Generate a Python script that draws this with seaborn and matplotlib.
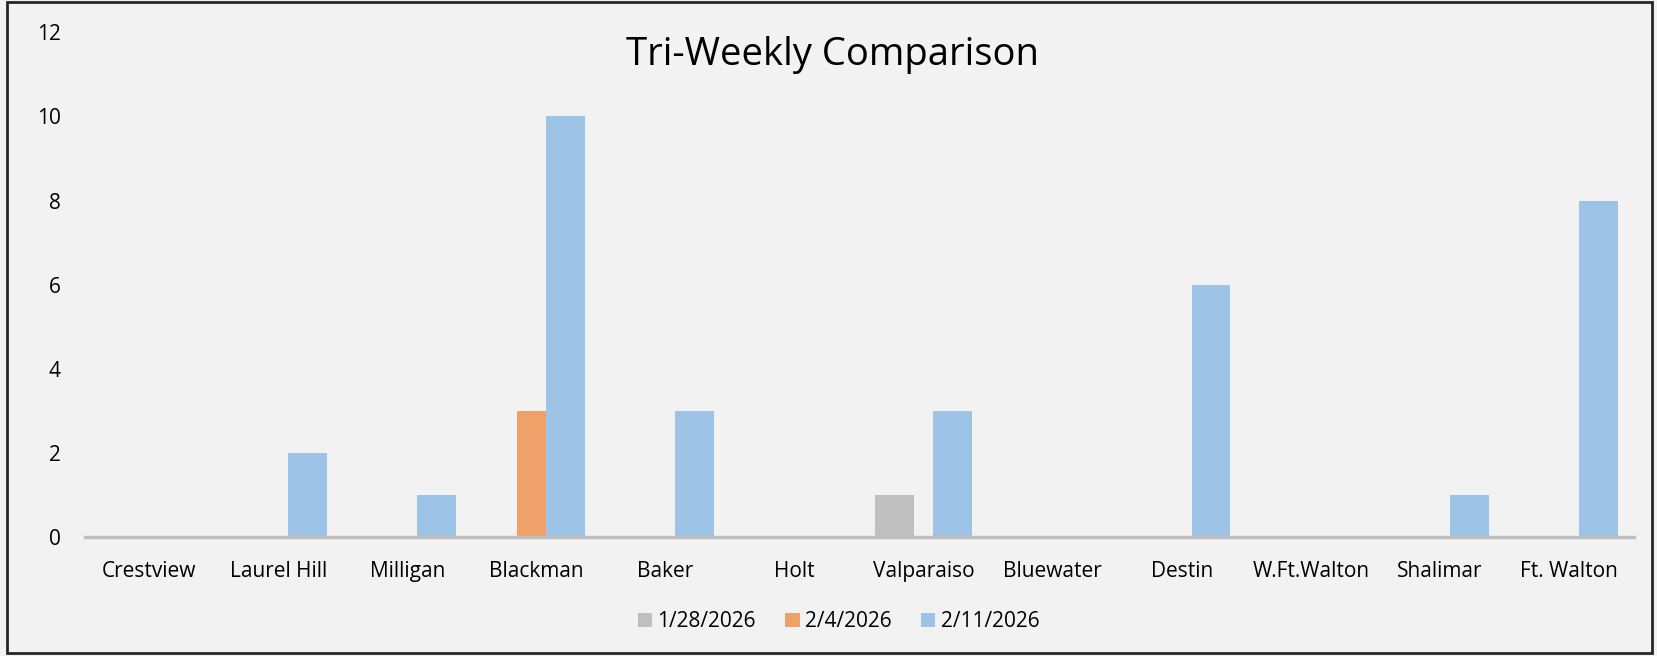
import pandas as pd
import matplotlib.pyplot as plt
import matplotlib.patches as mpatches
import seaborn as sns

# data
locations = ['Crestview', 'Laurel Hill', 'Milligan', 'Blackman', 'Baker', 'Holt',
             'Valparaiso', 'Bluewater', 'Destin', 'W.Ft.Walton', 'Shalimar', 'Ft. Walton']
dates = ['1/28/2026', '2/4/2026', '2/11/2026']
week_1 = [0, 0, 0, 0, 0, 0, 1, 0, 0, 0, 0, 0]
week_2 = [0, 0, 0, 3, 0, 0, 0, 0, 0, 0, 0, 0]
week_3 = [0, 2, 1, 10, 3, 0, 3, 0, 6, 0, 1, 8]
colors = ['#bfbfbf', '#f0a16a', '#9dc3e6']

rows = []
for d, vals in zip(dates, [week_1, week_2, week_3]):
    for loc, v in zip(locations, vals):
        rows.append({'location': loc, 'date': d, 'count': v})
data = pd.DataFrame(rows)

sns.set_style('white')
plt.rcParams['font.family'] = ['Open Sans', 'DejaVu Sans']

fig = plt.figure(figsize=(16.57, 6.56), dpi=100)
fig.patch.set_facecolor('#f2f2f2')
ax = fig.add_axes([0.051, 0.181, 0.935, 0.770])
ax.set_facecolor('#f2f2f2')

sns.barplot(data=data, x='location', y='count', hue='date', hue_order=dates,
            order=locations, palette=colors, saturation=1, width=0.675, linewidth=0,
            dodge=True, ax=ax)

# excel-style overlap: widen bars around their centres
for p in ax.patches:
    c = p.get_x() + p.get_width() / 2
    p.set_width(0.30)
    p.set_x(c - 0.15)

ax.set_ylim(0, 12)
ax.set_yticks(range(0, 13, 2))
ax.set_xlim(-0.5, len(locations) - 0.5)
ax.set_xlabel('')
ax.set_ylabel('')
ax.tick_params(axis='both', length=0, labelsize=15, colors='#000000')
ax.tick_params(axis='x', pad=17)
ax.tick_params(axis='y', pad=17)
for s in ['top', 'right', 'left']:
    ax.spines[s].set_visible(False)
ax.spines['bottom'].set_color('#bfbfbf')
ax.spines['bottom'].set_linewidth(2.5)

ax.set_title('Tri-Weekly Comparison', fontsize=27.5, color='#000000',
             x=0.483, y=0.935, pad=0)

handles, labels = ax.get_legend_handles_labels()
ax.legend_.remove()
fig.legend(handles, labels, loc='center', bbox_to_anchor=(0.506, 0.052), ncol=3,
           frameon=False, fontsize=15, handlelength=0.7, handleheight=0.7,
           handletextpad=0.25, columnspacing=1.4, labelcolor='#000000')

# chart border
fig.patches.append(mpatches.Rectangle((0.0045, 0.0046), 0.9925, 0.992, fill=False,
                                      edgecolor='#262626', linewidth=2,
                                      transform=fig.transFigure, figure=fig))

plt.savefig('out.png', dpi=100, facecolor=fig.get_facecolor())
